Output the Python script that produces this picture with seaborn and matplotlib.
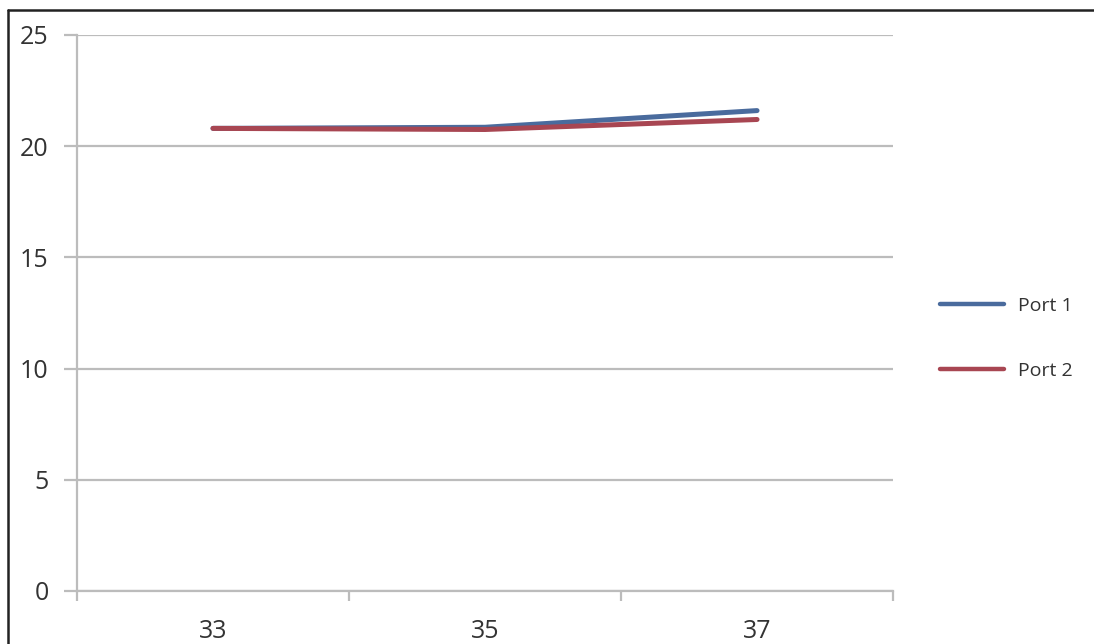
import pandas as pd
import numpy as np
import matplotlib.pyplot as plt
from matplotlib.lines import Line2D
import seaborn as sns

# ── Données ────────────────────────────────────────────────────────────────
categories = ['33', '35', '37']
port1 = [20.8, 20.85, 21.6]
port2 = [20.8, 20.75, 21.2]
series_names = ['Port 1', 'Port 2']
y_ticks = [0, 5, 10, 15, 20, 25]

df = pd.DataFrame({
    'x': categories * 2,
    'value': port1 + port2,
    'serie': [series_names[0]] * 3 + [series_names[1]] * 3,
})

# ── Style ──────────────────────────────────────────────────────────────────
sns.set_style('white')
plt.rcParams['font.family'] = ['Open Sans', 'DejaVu Sans']

grid_col = '#bcbcbc'
text_col = '#333333'
palette = {'Port 1': '#4A6B9D', 'Port 2': '#A84652'}

fig = plt.figure(figsize=(10.94, 6.44), dpi=100)
ax = fig.add_axes([0.0704, 0.0823, 0.7459, 0.8634])

sns.lineplot(data=df, x='x', y='value', hue='serie', palette=palette,
             linewidth=3.6, ax=ax, sort=False)

# ── Axes ───────────────────────────────────────────────────────────────────
ax.set_xlim(-0.5, len(categories) - 0.5)
ax.set_ylim(0, 25)
ax.set_yticks(y_ticks)
ax.set_yticklabels([str(v) for v in y_ticks])
ax.set_xticks(np.arange(-0.5, len(categories)), labels=[''] * (len(categories) + 1))
ax.set_xticks(np.arange(len(categories)), labels=categories, minor=True)
ax.set_xlabel('')
ax.set_ylabel('')

ax.yaxis.grid(True, color=grid_col, linewidth=1.6)
ax.xaxis.grid(False)
for side in ['top', 'right']:
    ax.spines[side].set_visible(False)
for side in ['left', 'bottom']:
    ax.spines[side].set_color(grid_col)
    ax.spines[side].set_linewidth(1.6)

ax.tick_params(axis='y', which='major', length=9.4, width=1.6, color=grid_col,
               pad=11, labelsize=18, labelcolor=text_col, left=True)
ax.tick_params(axis='x', which='major', length=7, width=1.6, color=grid_col,
               bottom=True)
ax.tick_params(axis='x', which='minor', length=0, pad=20, labelsize=18,
               labelcolor=text_col)

# ── Légende ────────────────────────────────────────────────────────────────
leg = ax.legend(loc='center left', bbox_to_anchor=(0.859, 0.4745),
                bbox_transform=fig.transFigure, frameon=False, fontsize=14,
                handlelength=3.3, handletextpad=0.7, labelspacing=2.4,
                borderpad=0, borderaxespad=0)
for line in leg.get_lines():
    line.set_linewidth(3.2)
for t in leg.get_texts():
    t.set_color(text_col)

# ── Cadre ──────────────────────────────────────────────────────────────────
fig.add_artist(Line2D([8 / 1094, 1], [1 - 10 / 644, 1 - 10 / 644],
                      transform=fig.transFigure, color='#222222', linewidth=1.8))
fig.add_artist(Line2D([8 / 1094, 8 / 1094], [0, 1 - 10 / 644],
                      transform=fig.transFigure, color='#222222', linewidth=1.8))

plt.savefig('out.png', dpi=100, facecolor='white')
